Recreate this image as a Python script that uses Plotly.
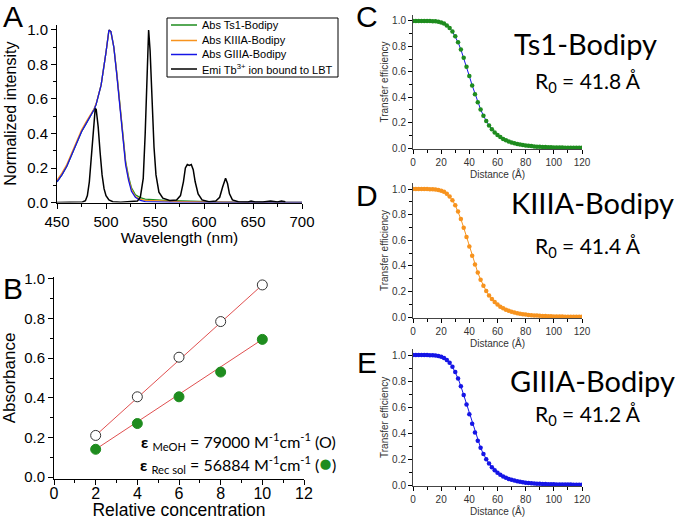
import plotly.graph_objects as go

# ---------------- Panel A data ----------------
abs_wl = [450, 455, 460, 465, 470, 475, 480, 485, 488, 490, 495, 500, 503, 505, 508, 511, 514,
          517, 520, 523, 526, 530, 535, 540, 550, 560, 570, 580, 590, 600, 610, 620, 650, 700]
abs_ts1 = [0.12, 0.16, 0.21, 0.28, 0.35, 0.41, 0.46, 0.51, 0.54, 0.57, 0.68, 0.87, 1.0, 0.99, 0.90,
           0.75, 0.57, 0.40, 0.24, 0.15, 0.085, 0.045, 0.028, 0.02, 0.015, 0.012, 0.01, 0.008,
           0.006, 0.005, 0.003, 0.002, 0.001, 0.0]
abs_kiiia = [0.13, 0.17, 0.22, 0.29, 0.36, 0.42, 0.47, 0.52, 0.545, 0.575, 0.68, 0.87, 1.0, 0.99,
             0.90, 0.75, 0.57, 0.39, 0.23, 0.14, 0.075, 0.035, 0.018, 0.012, 0.009, 0.007, 0.006,
             0.005, 0.004, 0.003, 0.001, 0.0, 0.0, 0.0]
abs_giiia = [0.12, 0.16, 0.21, 0.28, 0.35, 0.41, 0.46, 0.51, 0.54, 0.57, 0.68, 0.87, 1.0, 0.99,
             0.90, 0.74, 0.56, 0.38, 0.22, 0.13, 0.065, 0.03, 0.012, 0.005, 0.002, 0.001, 0.0,
             0.0, 0.0, 0.0, 0.0, 0.0, 0.0, 0.0]
emi_wl = [450, 470, 476, 479, 481, 483, 485, 487, 489, 490, 492, 494, 496, 498, 500, 503, 507,
          515, 525, 532, 535, 538, 540, 542, 543.5, 545, 547, 549, 551, 554, 558, 565, 572, 576,
          579, 581, 583, 585, 587, 589, 591, 594, 598, 605, 612, 616, 619, 621, 622, 624, 626,
          629, 635, 645, 648, 652, 660, 668, 671, 675, 679, 683]
emi_tb = [0.0, 0.0, 0.003, 0.01, 0.04, 0.12, 0.27, 0.44, 0.545, 0.54, 0.44, 0.29, 0.16, 0.08,
          0.04, 0.015, 0.005, 0.002, 0.003, 0.008, 0.03, 0.14, 0.40, 0.78, 1.0, 0.88, 0.58, 0.32,
          0.16, 0.06, 0.025, 0.012, 0.015, 0.04, 0.12, 0.20, 0.22, 0.215, 0.22, 0.19, 0.12, 0.05,
          0.015, 0.005, 0.008, 0.03, 0.09, 0.13, 0.14, 0.11, 0.05, 0.015, 0.004, 0.003, 0.008,
          0.003, 0.003, 0.008, 0.006, 0.003, 0.009, 0.004]
legend_names = ["Abs Ts1-Bodipy", "Abs KIIIA-Bodipy", "Abs GIIIA-Bodipy",
                "Emi Tb<sup>3+</sup> ion bound to LBT"]

# ---------------- Panel B data ----------------
conc = [2, 4, 6, 8, 10]
abs_meoh = [0.21, 0.405, 0.605, 0.785, 0.97]
abs_rec = [0.14, 0.27, 0.405, 0.53, 0.695]
fit_x = [2, 10]
fit_meoh = [0.21, 0.97]
fit_rec = [0.14, 0.695]

# ---------------- Panels C-E data ----------------
distance = list(range(0, 122, 2))
eff_ts1 = [1.0, 1.0, 1.0, 1.0, 1.0, 1.0, 0.999, 0.998, 0.997, 0.994, 0.988, 0.979, 0.965, 0.945,
           0.917, 0.880, 0.832, 0.775, 0.710, 0.639, 0.566, 0.493, 0.424, 0.360, 0.304, 0.254,
           0.212, 0.177, 0.147, 0.123, 0.103, 0.086, 0.072, 0.061, 0.051, 0.043, 0.037, 0.031,
           0.027, 0.023, 0.020, 0.017, 0.015, 0.013, 0.011, 0.010, 0.009, 0.008, 0.007, 0.006,
           0.005, 0.005, 0.004, 0.004, 0.003, 0.003, 0.003, 0.003, 0.002, 0.002, 0.002]
eff_kiiia = [1.0, 1.0, 1.0, 1.0, 1.0, 1.0, 0.999, 0.998, 0.997, 0.993, 0.987, 0.978, 0.963,
             0.942, 0.913, 0.874, 0.824, 0.765, 0.698, 0.626, 0.551, 0.478, 0.410, 0.347, 0.292,
             0.244, 0.203, 0.169, 0.140, 0.117, 0.097, 0.081, 0.068, 0.057, 0.048, 0.041, 0.035,
             0.030, 0.025, 0.022, 0.019, 0.016, 0.014, 0.012, 0.011, 0.009, 0.008, 0.007, 0.006,
             0.006, 0.005, 0.004, 0.004, 0.004, 0.003, 0.003, 0.003, 0.002, 0.002, 0.002, 0.002]
eff_giiia = [1.0, 1.0, 1.0, 1.0, 1.0, 1.0, 0.999, 0.998, 0.997, 0.993, 0.987, 0.977, 0.962,
             0.941, 0.910, 0.870, 0.820, 0.760, 0.692, 0.619, 0.544, 0.471, 0.403, 0.340, 0.286,
             0.238, 0.198, 0.165, 0.137, 0.114, 0.095, 0.079, 0.066, 0.056, 0.047, 0.040, 0.034,
             0.029, 0.025, 0.021, 0.018, 0.016, 0.014, 0.012, 0.010, 0.009, 0.008, 0.007, 0.006,
             0.006, 0.005, 0.004, 0.004, 0.004, 0.003, 0.003, 0.003, 0.002, 0.002, 0.002, 0.002]
fret_titles = ["Ts1-Bodipy", "KIIIA-Bodipy", "GIIIA-Bodipy"]
r0_labels = ["R<sub>0</sub> = 41.8 Å", "R<sub>0</sub> = 41.4 Å", "R<sub>0</sub> = 41.2 Å"]

GREEN = "#1e8c1e"
ORANGE = "#f7931e"
BLUE = "#1515e6"
ARIAL = "Liberation Sans, Arial, sans-serif"
CALIBRI = "Lato, Carlito, sans-serif"

W, H = 677, 520


def px(x):
    return x / W


def py(y):
    return 1 - y / H


fig = go.Figure()

# Panel A traces
abs_colors = [GREEN, ORANGE, BLUE]
for name, ys, col in zip(legend_names[:3], [abs_ts1, abs_kiiia, abs_giiia], abs_colors):
    fig.add_trace(go.Scatter(x=abs_wl, y=ys, mode="lines", name=name, showlegend=False,
                             line=dict(color=col, width=1.3), xaxis="x", yaxis="y"))
fig.add_trace(go.Scatter(x=emi_wl, y=emi_tb, mode="lines", name=legend_names[3],
                         showlegend=False,
                         line=dict(color="black", width=1.5), xaxis="x", yaxis="y"))

# Panel B traces
fig.add_trace(go.Scatter(x=fit_x, y=fit_meoh, mode="lines", showlegend=False,
                         line=dict(color="#e05050", width=1), xaxis="x2", yaxis="y2"))
fig.add_trace(go.Scatter(x=fit_x, y=fit_rec, mode="lines", showlegend=False,
                         line=dict(color="#e05050", width=1), xaxis="x2", yaxis="y2"))
fig.add_trace(go.Scatter(x=conc, y=abs_meoh, mode="markers", showlegend=False,
                         marker=dict(symbol="circle", size=10, color="white",
                                     line=dict(color="#333333", width=1)),
                         xaxis="x2", yaxis="y2"))
fig.add_trace(go.Scatter(x=conc, y=abs_rec, mode="markers", showlegend=False,
                         marker=dict(symbol="circle", size=10, color=GREEN,
                                     line=dict(color=GREEN, width=1)),
                         xaxis="x2", yaxis="y2"))

# Panels C-E traces
fret_sets = [(eff_ts1, GREEN, BLUE, "x3", "y3"),
             (eff_kiiia, ORANGE, ORANGE, "x4", "y4"),
             (eff_giiia, BLUE, BLUE, "x5", "y5")]
for eff, mcol, lcol, xa, ya in fret_sets:
    fig.add_trace(go.Scatter(x=distance, y=eff, mode="lines+markers", showlegend=False,
                             line=dict(color=lcol, width=1),
                             marker=dict(color=mcol, size=4.5, symbol="circle"),
                             xaxis=xa, yaxis=ya))

axis_common = dict(showline=True, linecolor="black", linewidth=1, ticks="outside",
                   ticklen=5, tickcolor="black", showgrid=False, zeroline=False, mirror=False,
                   automargin=False)

fretx = dict(axis_common, range=[0, 120], dtick=20, tick0=0,
             tickfont=dict(family=ARIAL, size=10, color="#333333"),
             minor=dict(ticks="outside", ticklen=3, dtick=10, tickcolor="black"),
             ticklen=4, linecolor="#444444")
frety = dict(axis_common, range=[-0.01, 1.05], dtick=0.2, tick0=0, tickformat=".1f",
             tickfont=dict(family=ARIAL, size=10, color="#333333"),
             minor=dict(ticks="outside", ticklen=3, dtick=0.1, tickcolor="black"),
             ticklen=4, linecolor="#444444")

fret_title_font = dict(family=ARIAL, size=10, color="#333333")

fig.update_layout(
    width=W, height=H,
    margin=dict(l=0, r=0, t=0, b=0),
    paper_bgcolor="white", plot_bgcolor="white",
    font=dict(family=ARIAL, color="black"),
    showlegend=False,
    xaxis=dict(axis_common, domain=[px(57), px(302)], range=[450, 700], dtick=50,
               tick0=450, anchor="y",
               tickfont=dict(family=ARIAL, size=15),
               minor=dict(ticks="outside", ticklen=3, dtick=25, tickcolor="black"),
               title=dict(text="Wavelength (nm)", font=dict(family=ARIAL, size=15.5),
                          standoff=2)),
    yaxis=dict(axis_common, domain=[py(202.5), py(24.8)], range=[0, 1.03], dtick=0.2,
               tick0=0, tickformat=".1f", anchor="x",
               tickfont=dict(family=ARIAL, size=15),
               minor=dict(ticks="outside", ticklen=3, dtick=0.1, tickcolor="black"),
               title=dict(text="Normalized intensity", font=dict(family=ARIAL, size=16),
                          standoff=6)),
    xaxis2=dict(axis_common, domain=[px(54), px(304)], range=[0, 12], dtick=2, tick0=0,
                anchor="y2", ticklabelstandoff=-5,
                tickfont=dict(family=ARIAL, size=16),
                minor=dict(ticks="outside", ticklen=3, dtick=1, tickcolor="black"),
                title=dict(text="Relative concentration", font=dict(family=ARIAL, size=17.5),
                           standoff=2)),
    yaxis2=dict(axis_common, domain=[py(479), py(277)], range=[-0.01, 1.01], dtick=0.2,
                tick0=0, tickformat=".1f", anchor="x2",
                tickfont=dict(family=ARIAL, size=15),
                minor=dict(ticks="outside", ticklen=3, dtick=0.1, tickcolor="black"),
                title=dict(text="Absorbance", font=dict(family=ARIAL, size=17),
                           standoff=4)),
    xaxis3=dict(fretx, domain=[px(413), px(582)], anchor="y3",
                title=dict(text="Distance (Å)", font=fret_title_font, standoff=2)),
    yaxis3=dict(frety, domain=[py(149.3), py(14.6)], anchor="x3",
                title=dict(text="Transfer efficiency", font=fret_title_font, standoff=1)),
    xaxis4=dict(fretx, domain=[px(413), px(582)], anchor="y4",
                title=dict(text="Distance (Å)", font=fret_title_font, standoff=2)),
    yaxis4=dict(frety, domain=[py(318.3), py(182.6)], anchor="x4",
                title=dict(text="Transfer efficiency", font=fret_title_font, standoff=1)),
    xaxis5=dict(fretx, domain=[px(413), px(582)], anchor="y5",
                title=dict(text="Distance (Å)", font=fret_title_font, standoff=2)),
    yaxis5=dict(frety, domain=[py(486.3), py(348.5)], anchor="x5",
                title=dict(text="Transfer efficiency", font=fret_title_font, standoff=1)),
)

shapes = []
annotations = []

# Manual legend for panel A
shapes.append(dict(type="rect", xref="paper", yref="paper", x0=px(167), x1=px(338),
                   y0=py(77), y1=py(18), line=dict(color="black", width=1),
                   fillcolor="white", layer="above"))
legend_rows = [25, 40.5, 54.5, 69]
for name, col, ry in zip(legend_names, abs_colors + ["black"], legend_rows):
    shapes.append(dict(type="line", xref="paper", yref="paper", x0=px(171), x1=px(197),
                       y0=py(ry), y1=py(ry), line=dict(color=col, width=1.5), layer="above"))
    annotations.append(dict(text=name, x=px(200), y=py(ry), xref="paper", yref="paper",
                            showarrow=False, xanchor="left", yanchor="middle",
                            font=dict(family=ARIAL, size=11, color="black")))

# Panel letters
for letter, x, y in [("A", 13, 16), ("B", 13, 288), ("C", 367, 16), ("D", 367, 195),
                     ("E", 367, 362)]:
    annotations.append(dict(text=letter, x=px(x), y=py(y), xref="paper", yref="paper",
                            showarrow=False, xanchor="center", yanchor="middle",
                            font=dict(family=ARIAL, size=30, color="black")))

# Panel B equations
annotations.append(dict(text="<b>ε</b> <sub>MeOH</sub> = 79000 M<sup>-1</sup>cm<sup>-1</sup> (O)",
                        x=px(338), y=py(441), xref="paper", yref="paper", showarrow=False,
                        xanchor="right", yanchor="middle",
                        font=dict(family=CALIBRI, size=16, color="black")))
annotations.append(dict(text="<b>ε</b> <sub>Rec sol</sub> = 56884 M<sup>-1</sup>cm<sup>-1</sup> "
                             "(<span style='color:" + GREEN + ";font-size:21px'>●</span>)",
                        x=px(338), y=py(463), xref="paper", yref="paper", showarrow=False,
                        xanchor="right", yanchor="middle",
                        font=dict(family=CALIBRI, size=16, color="black")))

# Panels C-E titles
for t, r, tx, ty, ry in zip(fret_titles, r0_labels, [585, 592, 592], [43, 203, 380],
                            [82, 247, 415]):
    annotations.append(dict(text=t, x=px(tx), y=py(ty), xref="paper", yref="paper",
                            showarrow=False, xanchor="center", yanchor="middle",
                            font=dict(family=CALIBRI, size=29, color="black")))
    annotations.append(dict(text=r, x=px(588), y=py(ry), xref="paper", yref="paper",
                            showarrow=False, xanchor="center", yanchor="middle",
                            font=dict(family=CALIBRI, size=21, color="black")))

fig.update_layout(annotations=annotations, shapes=shapes)

fig.write_html("out.html",
               config={"displayModeBar": False},
               post_script="document.body.style.margin='0px';"
                           "document.body.style.padding='0px';")
